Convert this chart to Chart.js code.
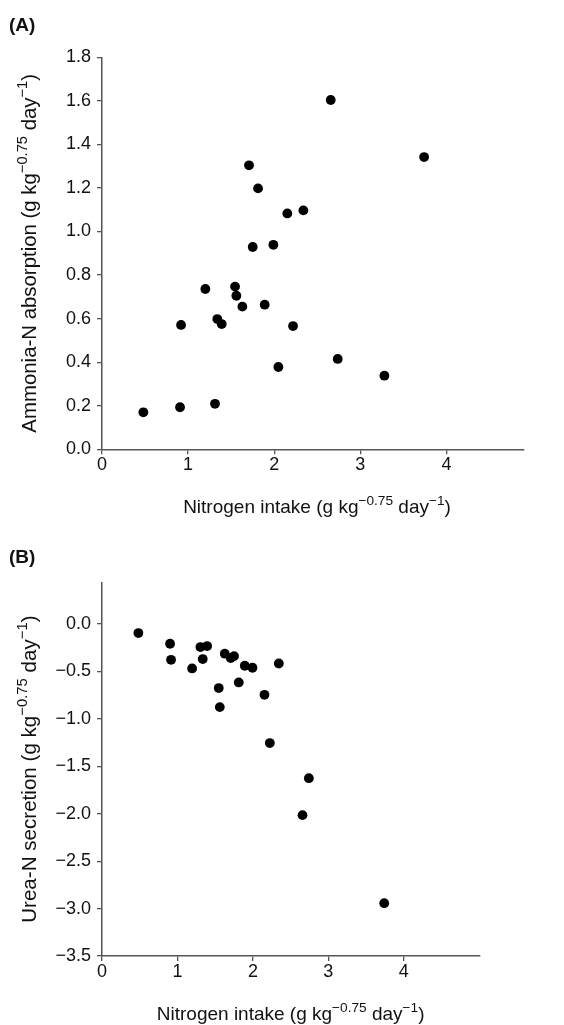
<!DOCTYPE html>
<html>
<head>
<meta charset="utf-8">
<script src="https://cdn.jsdelivr.net/npm/chart.js@4.4.0/dist/chart.umd.min.js"></script>
<style>
  html, body { margin: 0; padding: 0; background: #fff; }
  body { width: 564px; height: 1025px; position: relative; overflow: hidden; }
  canvas { position: absolute; left: 0; }
  #cA { top: 0; }
  #cB { top: 530px; }
</style>
</head>
<body>
<canvas id="cA" width="564" height="530"></canvas>
<canvas id="cB" width="564" height="495"></canvas>
<script>
// ---- Data ----
const intakeA = [2.656, 3.74, 1.707, 1.812, 2.152, 2.338, 1.750, 1.990, 1.200, 1.545, 1.560, 1.630, 1.889, 0.918, 1.339, 1.390, 2.218, 2.737, 2.048, 3.279, 0.480, 0.906, 1.312];
const ammoniaA = [1.604, 1.342, 1.304, 1.198, 1.083, 1.097, 0.929, 0.939, 0.736, 0.747, 0.705, 0.655, 0.664, 0.571, 0.598, 0.575, 0.566, 0.415, 0.378, 0.338, 0.170, 0.193, 0.209];

const intakeB = [0.482, 0.902, 0.915, 1.194, 1.304, 1.393, 1.335, 1.627, 1.706, 1.750, 1.892, 1.994, 2.343, 1.547, 1.812, 1.561, 2.153, 2.224, 2.741, 2.657, 3.740];
const ureaB = [-0.095, -0.208, -0.377, -0.468, -0.243, -0.232, -0.369, -0.313, -0.359, -0.338, -0.440, -0.461, -0.416, -0.675, -0.616, -0.876, -0.746, -1.255, -1.625, -2.015, -2.943];

const xTicks = [0, 1, 2, 3, 4];
const yTicksA = [0, 0.2, 0.4, 0.6, 0.8, 1.0, 1.2, 1.4, 1.6, 1.8];
const yTicksB = [-3.5, -3.0, -2.5, -2.0, -1.5, -1.0, -0.5, 0.0];

const panelLabels = ['(A)', '(B)'];
const xTitle = [['Nitrogen intake (g kg', 0], ['\u22120.75', 1], [' day', 0], ['\u22121', 1], [')', 0]];
const yTitleA = [['Ammonia-N absorption (g kg', 0], ['\u22120.75', 1], [' day', 0], ['\u22121', 1], [')', 0]];
const yTitleB = [['Urea-N secretion (g kg', 0], ['\u22120.75', 1], [' day', 0], ['\u22121', 1], [')', 0]];

// ---- Helpers ----
const FONT = '"Liberation Sans", Arial, Helvetica, sans-serif';

function drawRich(ctx, parts, size) {
  const supSize = size * 0.72;
  let w = 0;
  const widths = parts.map(([t, s]) => {
    ctx.font = (s ? supSize : size) + 'px ' + FONT;
    const m = ctx.measureText(t).width;
    w += m;
    return m;
  });
  let x = -w / 2;
  parts.forEach(([t, s], i) => {
    ctx.font = (s ? supSize : size) + 'px ' + FONT;
    ctx.fillText(t, x, s ? -size * 0.42 : 0);
    x += widths[i];
  });
}

function titlePlugin(cfg) {
  return {
    id: 'titles',
    afterDraw(chart) {
      const ctx = chart.ctx;
      const a = chart.chartArea;
      ctx.save();
      ctx.fillStyle = '#111';
      ctx.textAlign = 'left';
      // panel label
      ctx.font = 'bold 19px ' + FONT;
      ctx.textBaseline = 'middle';
      ctx.fillText(cfg.label, 9, cfg.labelY);
      ctx.textBaseline = 'alphabetic';
      // x title
      ctx.save();
      ctx.translate((a.left + a.right) / 2 + cfg.xTitleDx, cfg.xTitleBase);
      drawRich(ctx, xTitle, cfg.xSize);
      ctx.restore();
      // y title
      ctx.save();
      ctx.translate(cfg.yTitleBase, (a.top + a.bottom) / 2);
      ctx.rotate(-Math.PI / 2);
      drawRich(ctx, cfg.yTitle, cfg.ySize);
      ctx.restore();
      ctx.restore();
    }
  };
}

function fmt(v) {
  const s = Math.abs(v) < 1e-9 ? '0.0' : v.toFixed(1);
  return s.replace('-', '\u2212');
}

function makeChart(id, xs, ys, yTicks, opt) {
  const pts = xs.map((x, i) => ({ x: x, y: ys[i] }));
  const H = opt.H;
  const axisColor = '#555';
  return new Chart(document.getElementById(id), {
    type: 'scatter',
    data: {
      datasets: [{
        data: pts,
        pointRadius: 4.9,
        pointHoverRadius: 4.9,
        backgroundColor: '#000',
        borderWidth: 0
      }]
    },
    options: {
      responsive: false,
      animation: false,
      events: [],
      layout: {
        padding: { left: 0, top: opt.top, right: 564 - opt.right, bottom: H - opt.bottom - 34 }
      },
      plugins: { legend: { display: false }, tooltip: { enabled: false } },
      scales: {
        x: {
          type: 'linear',
          min: 0,
          max: opt.xMax,
          afterFit(s) { s.height = 34; },
          afterBuildTicks(s) { s.ticks = xTicks.map(v => ({ value: v })); },
          grid: { display: true, drawOnChartArea: false, drawTicks: true, tickLength: 5, color: axisColor, lineWidth: 1.3 },
          border: { display: true, color: axisColor, width: 1.5 },
          ticks: {
            padding: 0,
            color: '#111',
            font: { family: FONT, size: 18 },
            callback: v => String(v),
            maxRotation: 0
          }
        },
        y: {
          type: 'linear',
          min: opt.yMin,
          max: opt.yMax,
          afterFit(s) { s.width = 102; },
          afterBuildTicks(s) { s.ticks = yTicks.map(v => ({ value: v })); },
          grid: { display: true, drawOnChartArea: false, drawTicks: true, tickLength: 5, color: axisColor, lineWidth: 1.3 },
          border: { display: true, color: axisColor, width: 1.5 },
          ticks: {
            padding: 6,
            color: '#111',
            font: { family: FONT, size: 18 },
            callback: v => fmt(v)
          }
        }
      }
    },
    plugins: [titlePlugin(opt.titles)]
  });
}

makeChart('cA', intakeA, ammoniaA, yTicksA, {
  H: 530, top: 57.3, bottom: 449.3, right: 524,
  xMax: 4.9, yMin: 0, yMax: 1.8,
  titles: { label: panelLabels[0], labelY: 26, xTitleBase: 513, xTitleDx: 4, yTitleBase: 36, yTitle: yTitleA, xSize: 19, ySize: 20.4 }
});

makeChart('cB', intakeB, ureaB, yTicksB, {
  H: 495, top: 52.3, bottom: 426, right: 479.3,
  xMax: 5, yMin: -3.5, yMax: 0.44,
  titles: { label: panelLabels[1], labelY: 28, xTitleBase: 490, xTitleDx: 0, yTitleBase: 36, yTitle: yTitleB, xSize: 19, ySize: 20.6 }
});
</script>
</body>
</html>
